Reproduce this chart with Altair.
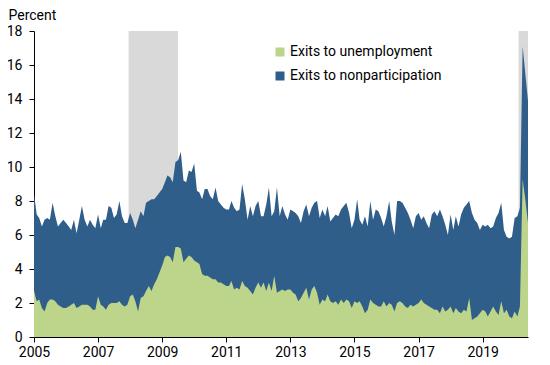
import altair as alt
import pandas as pd

# Monthly exit rates from employment, percent (Jan 2005 - Jun 2020)
total_exits = [
    8.4, 7.2, 7.0, 6.5, 6.9, 7.0, 6.9, 7.9, 7.1, 6.5, 6.7, 6.9,   # 2005
    6.7, 6.5, 6.3, 6.9, 6.1, 6.9, 7.7, 6.9, 6.5, 6.9, 6.6, 6.4,   # 2006
    7.2, 6.4, 6.9, 6.9, 7.7, 7.6, 7.0, 7.2, 8.0, 7.1, 6.7, 6.7,   # 2007
    7.3, 6.9, 6.4, 6.9, 7.4, 7.1, 7.9, 8.0, 8.1, 8.1, 8.3, 8.5,   # 2008
    8.7, 9.1, 9.5, 9.4, 9.1, 10.3, 10.4, 10.9, 9.2, 9.1, 9.8, 9.7,  # 2009
    10.2, 8.6, 8.5, 8.1, 8.7, 8.7, 8.3, 8.1, 8.8, 8.0, 7.8, 7.6,  # 2010
    7.5, 7.5, 8.0, 7.6, 7.4, 7.5, 9.0, 8.1, 6.9, 7.7, 7.1, 7.7,   # 2011
    8.0, 7.1, 7.1, 7.8, 8.8, 7.1, 7.4, 8.8, 7.1, 7.7, 7.2, 6.9,   # 2012
    7.5, 7.4, 7.3, 7.1, 6.7, 7.4, 7.8, 7.1, 7.6, 7.9, 8.0, 7.0,   # 2013
    7.5, 7.1, 7.7, 6.8, 7.0, 7.2, 7.1, 7.5, 7.7, 7.9, 7.3, 6.4,   # 2014
    6.9, 8.1, 6.9, 6.6, 7.1, 6.5, 8.0, 6.9, 7.5, 7.4, 7.0, 6.5,   # 2015
    7.1, 8.0, 6.8, 6.0, 8.0, 8.0, 7.9, 7.6, 7.3, 6.9, 6.4, 7.1,   # 2016
    7.3, 6.9, 7.1, 6.7, 6.4, 7.2, 7.4, 7.1, 7.5, 7.1, 6.6, 6.0,   # 2017
    7.2, 6.3, 7.1, 6.5, 7.2, 7.6, 7.8, 8.0, 7.3, 6.9, 6.7, 6.3,   # 2018
    6.6, 6.5, 6.6, 6.4, 6.5, 7.0, 7.3, 7.9, 6.3, 5.9, 5.8, 5.9,   # 2019
    7.0, 7.1, 7.6, 17.1, 15.5, 13.9,                              # 2020
]

unemployment_exits = [
    2.7, 2.1, 2.2, 1.7, 1.5, 2.0, 2.2, 2.2, 2.1, 1.9, 1.8, 1.7,   # 2005
    1.7, 1.8, 1.9, 2.0, 1.7, 1.8, 1.9, 1.9, 1.9, 1.8, 1.6, 1.6,   # 2006
    2.4, 1.9, 1.8, 1.6, 1.9, 2.0, 2.0, 2.0, 2.1, 1.9, 1.8, 1.9,   # 2007
    2.4, 2.5, 2.1, 1.5, 2.3, 2.4, 2.7, 3.0, 2.7, 3.1, 3.4, 3.8,   # 2008
    4.2, 4.7, 4.8, 4.7, 4.4, 5.3, 5.3, 5.2, 4.4, 4.6, 4.8, 4.7,   # 2009
    4.5, 4.4, 4.3, 3.7, 3.6, 3.6, 3.5, 3.4, 3.4, 3.2, 3.2, 3.1,   # 2010
    3.0, 3.0, 3.3, 2.8, 2.9, 2.8, 3.3, 3.0, 2.9, 2.7, 2.5, 2.9,   # 2011
    3.2, 2.9, 3.2, 2.7, 3.2, 2.7, 3.6, 2.6, 2.7, 2.8, 2.7, 2.8,   # 2012
    2.8, 2.6, 2.5, 2.1, 2.3, 2.6, 2.9, 2.2, 2.8, 3.0, 2.6, 1.9,   # 2013
    2.2, 2.1, 2.5, 2.1, 2.0, 2.1, 1.9, 2.2, 2.0, 2.2, 2.1, 1.7,   # 2014
    2.1, 2.0, 2.1, 1.8, 1.4, 1.6, 2.2, 2.0, 1.9, 1.8, 1.8, 2.1,   # 2015
    1.8, 2.0, 1.9, 1.5, 2.0, 2.1, 2.0, 1.8, 1.7, 1.9, 1.8, 1.9,   # 2016
    2.0, 2.2, 2.0, 1.9, 1.8, 1.7, 1.6, 1.6, 1.4, 1.8, 1.5, 1.6,   # 2017
    1.8, 1.4, 1.7, 1.5, 1.4, 1.6, 1.5, 2.3, 1.0, 1.1, 1.2, 1.4,   # 2018
    1.6, 1.5, 1.2, 1.5, 1.8, 1.5, 1.3, 2.1, 1.4, 1.6, 1.2, 1.1,   # 2019
    1.5, 1.2, 1.8, 9.3, 8.1, 6.7,                                 # 2020
]

series_names = ["Exits to unemployment", "Exits to nonparticipation"]
series_colors = ["#bdd48b", "#2f5e8a"]

recession_starts = ["2007-12-15", "2020-02-15"]
recession_ends = ["2009-06-30", "2020-06-01"]

tick_years = [2005, 2007, 2009, 2011, 2013, 2015, 2017, 2019]

dates = pd.date_range("2005-01-01", periods=len(total_exits), freq="MS")
df_blue = pd.DataFrame({"date": dates, "value": total_exits,
                        "series": series_names[1]})
df_green = pd.DataFrame({"date": dates, "value": unemployment_exits,
                         "series": series_names[0]})
rec = pd.DataFrame({
    "start": pd.to_datetime(recession_starts),
    "end": pd.to_datetime(recession_ends),
})

W, H = 494, 306

x_scale = alt.Scale(domain=[alt.DateTime(year=2005, month=1, date=1),
                            alt.DateTime(year=2020, month=6, date=1)])
y_scale = alt.Scale(domain=[0, 18], nice=False)
color_scale = alt.Scale(domain=series_names, range=series_colors)

x_axis = alt.Axis(values=[alt.DateTime(year=y, month=1, date=1) for y in tick_years],
                  format="%Y", title=None, labelFlush=False)
y_axis = alt.Axis(values=list(range(0, 19, 2)), title="Percent",
                  titleAngle=0, titleAlign="left", titleBaseline="middle",
                  titleX=-26, titleY=-16, labelPadding=7)

legend = alt.Legend(title=None, orient="none", legendX=239, legendY=14,
                    symbolType="square", symbolSize=81, symbolStrokeWidth=0,
                    labelFontSize=14, labelFont="Roboto", labelColor="#000",
                    labelOffset=3, rowPadding=10, symbolOpacity=1)

shade = alt.Chart(rec).mark_rect(color="#d9d9d9").encode(
    x=alt.X("start:T", scale=x_scale, axis=x_axis),
    x2="end:T",
    y=alt.value(0),
    y2=alt.value(H),
)


def area_layer(d):
    return alt.Chart(d).mark_area(opacity=1, interpolate="linear").encode(
        x=alt.X("date:T", scale=x_scale, axis=x_axis),
        y=alt.Y("value:Q", scale=y_scale, axis=y_axis, stack=None),
        color=alt.Color("series:N", scale=color_scale, legend=legend),
    )


chart = alt.layer(shade, area_layer(df_blue), area_layer(df_green)).properties(
    width=W, height=H,
    autosize=alt.AutoSizeParams(type="none"),
    padding={"left": 26, "top": 23, "right": 14, "bottom": 26},
).configure_view(stroke=None).configure_axis(
    grid=False, domainColor="#000", tickColor="#000", tickSize=5,
    labelFont="Roboto", labelFontSize=14, labelColor="#000",
    titleFont="Roboto", titleFontSize=14, titleFontWeight="normal", titleColor="#000",
).configure_axisX(labelPadding=3)

chart.save("out.html", embed_options={"renderer": "svg", "actions": False})
